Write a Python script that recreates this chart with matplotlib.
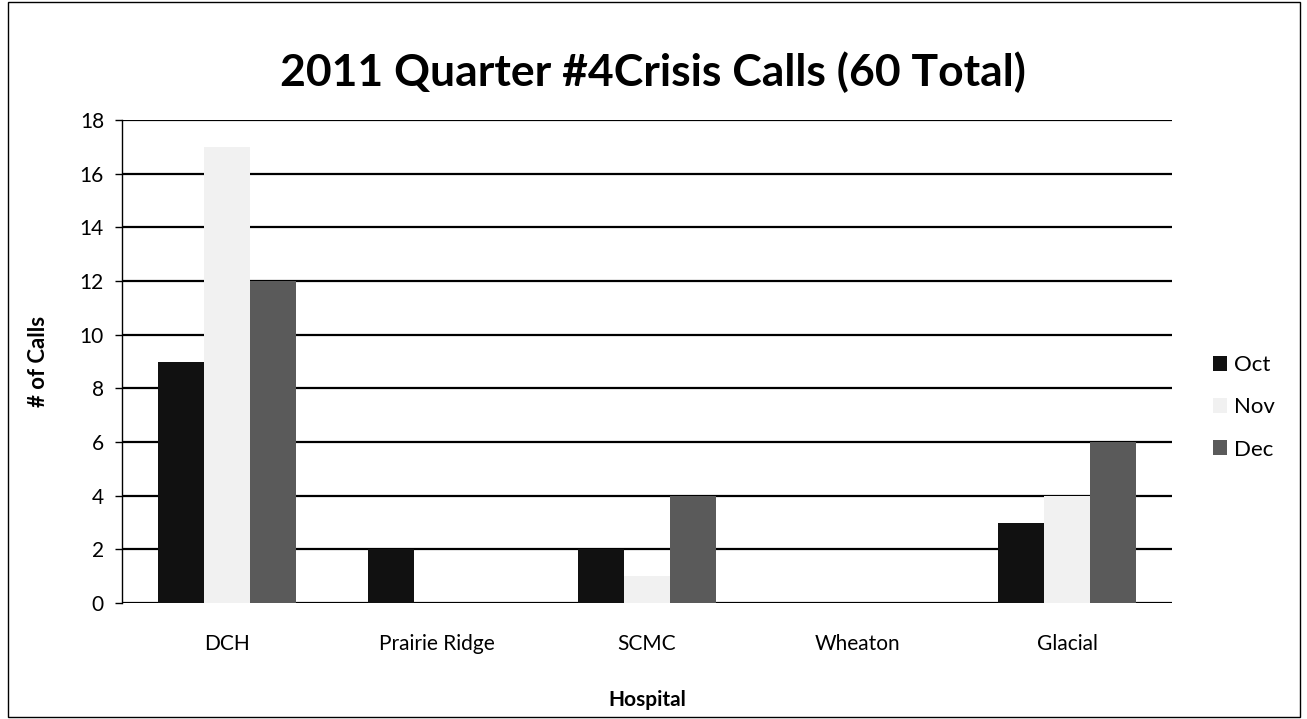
import matplotlib
matplotlib.use("Agg")
import matplotlib.pyplot as plt
import numpy as np
from matplotlib.patches import Rectangle

plt.rcParams['font.family'] = ['Lato', 'DejaVu Sans']

hospitals = ["DCH", "Prairie Ridge", "SCMC", "Wheaton", "Glacial"]
months = ["Oct", "Nov", "Dec"]
oct_vals = [9, 2, 2, 0, 3]
nov_vals = [17, 0, 1, 0, 4]
dec_vals = [12, 0, 4, 0, 6]
colors = ["#111111", "#f1f1f1", "#5a5a5a"]

fig = plt.figure(figsize=(13.07, 7.19), dpi=100)
ax = fig.add_axes([122/1307, 1 - 603/719, (1172-122)/1307, (603-120)/719])

x = np.arange(len(hospitals))
w = 0.218
for i, (vals, c, m) in enumerate(zip([oct_vals, nov_vals, dec_vals], colors, months)):
    ax.bar(x + (i - 1) * w, vals, width=w, color=c, label=m, zorder=3,
           edgecolor="none")

ax.set_xlim(-0.5, len(hospitals) - 0.5)
ax.set_ylim(0, 18)
ax.set_yticks(range(0, 19, 2))
ax.yaxis.grid(True, color="black", linewidth=1.6, zorder=0)
ax.set_axisbelow(True)
for s in ["top", "right", "bottom"]:
    ax.spines[s].set_visible(False)
ax.spines["left"].set_linewidth(1.0)
ax.set_xticks(x)
ax.set_xticklabels(hospitals, fontsize=15)
ax.tick_params(axis="x", length=0, pad=22)
ax.tick_params(axis="y", labelsize=15, length=5, width=1, direction="out", pad=8)

ax.set_xlabel("Hospital", fontsize=15, fontweight="bold", labelpad=26)
ax.set_ylabel("# of Calls", fontsize=16, fontweight="bold", labelpad=22)

fig.text(653/1307, 1 - 72/719, "2011 Quarter #4Crisis Calls (60 Total)",
         ha="center", va="center", fontsize=32, fontweight="bold")

ax.legend(loc="center left", bbox_to_anchor=(1.02, 0.405), frameon=False,
          fontsize=16, handlelength=0.65, handleheight=0.65, handletextpad=0.3,
          labelspacing=1.0)

fig.patches.append(Rectangle((8/1307, 0.003), (1300-8)/1307, 0.994,
                             transform=fig.transFigure, fill=False,
                             edgecolor="black", linewidth=1.0))

fig.savefig("out.png", dpi=100)
